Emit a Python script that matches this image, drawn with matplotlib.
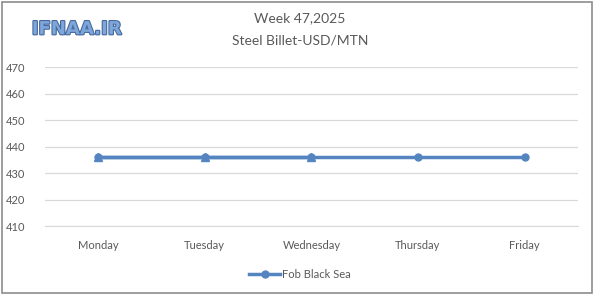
import matplotlib
matplotlib.use("Agg")
import matplotlib.pyplot as plt
import matplotlib.patheffects as pe
from matplotlib.patches import Rectangle

days = ["Monday", "Tuesday", "Wednesday", "Thursday", "Friday"]
fob_black_sea = [436, 436, 436, 436, 436]
hidden_series = [436, 436, 436]
yticks = [410, 420, 430, 440, 450, 460, 470]

blue = "#5585c0"
grey_txt = "#595959"

plt.rcParams['font.family'] = ['Lato', 'DejaVu Sans']

fig = plt.figure(figsize=(6, 3.08), dpi=100)
ax = fig.add_axes([0.075, 0.266, 0.888, 0.516])

x = list(range(len(days)))
ax.plot(x[:len(hidden_series)], hidden_series, color=blue, lw=2.5,
        marker="^", ms=6, zorder=3)
ax.plot(x, fob_black_sea, color=blue, lw=2.5, marker="o", ms=5,
        label="Fob Black Sea", zorder=4)

ax.set_xlim(-0.5, len(days) - 0.5)
ax.set_ylim(410, 470)
ax.set_yticks(yticks)
ax.set_xticks(x)
ax.set_xticklabels(days)
ax.grid(axis="y", color="#d9d9d9", lw=0.9)
ax.set_axisbelow(True)
for s in ["top", "right", "left"]:
    ax.spines[s].set_visible(False)
ax.spines["bottom"].set_color("#d9d9d9")
ax.tick_params(length=0, colors=grey_txt, labelsize=8)
ax.tick_params(axis="x", pad=10)
ax.tick_params(axis="y", pad=14)

fig.text(0.5, 0.94, "Week 47,2025", ha="center", va="center",
         fontsize=10, color=grey_txt)
fig.text(0.5, 0.87, "Steel Billet-USD/MTN", ha="center", va="center",
         fontsize=10, color=grey_txt)

logo = fig.text(0.053, 0.905, "IFNAA.IR", ha="left", va="center",
                fontsize=13, fontweight="bold", color="#7ea6da",
                family="DejaVu Sans")
logo.set_path_effects([pe.withStroke(linewidth=1.6, foreground="#45699c")])

leg = fig.legend(loc="center", bbox_to_anchor=(0.5, 0.11), frameon=False,
                 fontsize=8, handlelength=2.8, handletextpad=0.2)
for t in leg.get_texts():
    t.set_color(grey_txt)

fig.patches.append(Rectangle((0.004, 0.048), 0.983, 0.947,
                             transform=fig.transFigure, fill=False,
                             edgecolor="#8c8c8c", lw=1.2))

fig.savefig("out.png", dpi=100)
